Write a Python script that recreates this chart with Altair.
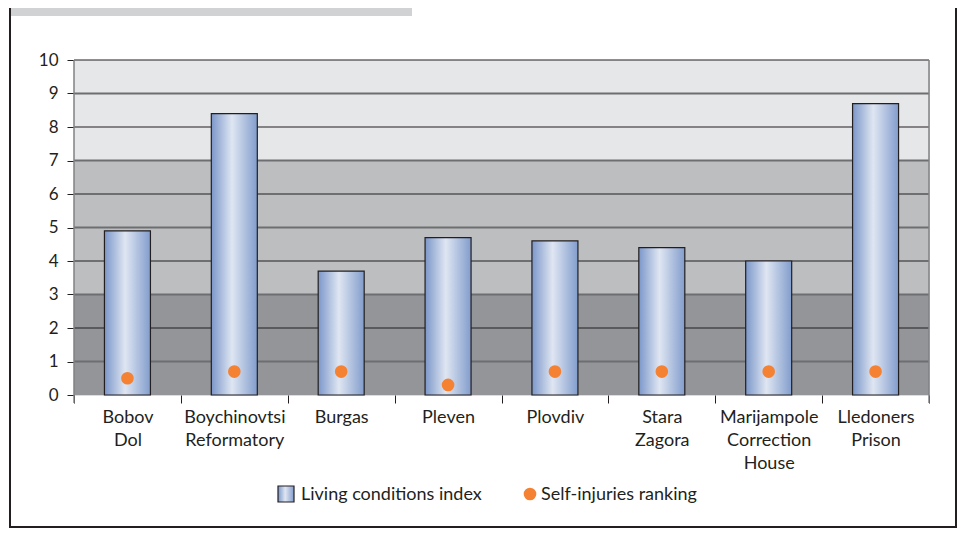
import altair as alt
import pandas as pd

# ---- data ----
categories = ["Bobov Dol", "Boychinovtsi Reformatory", "Burgas", "Pleven", "Plovdiv",
              "Stara Zagora", "Marijampole Correction House", "Lledoners Prison"]
living_index = [4.9, 8.4, 3.7, 4.7, 4.6, 4.4, 4.0, 8.7]
self_injuries = [0.5, 0.7, 0.7, 0.3, 0.7, 0.7, 0.7, 0.7]
band_low = [0, 3, 7]
band_high = [3, 7, 10]
band_colors = ["#939598", "#bcbec0", "#e6e7e8"]
grid_values = [1, 2, 3, 4, 5, 6, 7, 8, 9, 10]
y_ticks = [0, 1, 2, 3, 4, 5, 6, 7, 8, 9, 10]
legend_labels = ["Living conditions index", "Self-injuries ranking"]

W, H = 855, 335
FONT = "Lato"
INK = "#231f20"

df = pd.DataFrame({"cat": categories, "living": living_index, "self": self_injuries})
bands = pd.DataFrame({"lo": band_low, "hi": band_high, "col": band_colors})
grid = pd.DataFrame({"v": grid_values, "odd": [v % 2 == 1 for v in grid_values]})
one = pd.DataFrame({"k": [0]})

yscale = alt.Scale(domain=[0, 10], nice=False)
xscale = alt.Scale(paddingInner=0, paddingOuter=0)

yaxis = alt.Axis(title=None, values=y_ticks, tickSize=7, tickColor=INK,
                 domain=False, grid=False, labelFont=FONT, labelFontSize=17,
                 labelPadding=9, labelColor=INK, labelOverlap=False)

bar_grad = alt.Gradient(
    gradient="linear", x1=0, x2=1, y1=0, y2=0,
    stops=[alt.GradientStop(color="#7b97c9", offset=0),
           alt.GradientStop(color="#dfe6f2", offset=0.45),
           alt.GradientStop(color="#829dcc", offset=1)])

band_layer = alt.Chart(bands).mark_rect().encode(
    y=alt.Y("lo:Q", scale=yscale, axis=yaxis),
    y2="hi:Q",
    x=alt.value(0), x2=alt.value(W),
    color=alt.Color("col:N", scale=None),
)

grid_layer = alt.Chart(grid).mark_rule().encode(
    y=alt.Y("v:Q", scale=yscale, axis=yaxis),
    x=alt.value(0), x2=alt.value(W),
    color=alt.condition("datum.odd", alt.value("#6d6e71"), alt.value(INK)),
    strokeWidth=alt.condition("datum.odd", alt.value(2), alt.value(1.2)),
)

edges = alt.Chart(pd.DataFrame({"xe": [0, W]})).mark_rule(color="#808285", strokeWidth=1.5).encode(
    x=alt.X("xe:Q", scale=None), y=alt.value(0), y2=alt.value(H + 8))

xaxis = alt.Axis(title=None, labelAngle=0, tickBand="extent",
                 labelExpr="split(datum.label, ' ')", tickSize=8, tickColor=INK,
                 domain=False, labelFont=FONT, labelFontSize=18,
                 labelLineHeight=23, labelPadding=5, labelColor=INK,
                 labelLimit=300)

bars = alt.Chart(df).mark_bar(width=46, color=bar_grad, stroke=INK, strokeWidth=1.2).encode(
    x=alt.X("cat:N", sort=categories, scale=xscale, axis=xaxis),
    y=alt.Y("living:Q", scale=yscale, axis=yaxis),
)

dots = alt.Chart(df).mark_circle(size=160, color="#f58233", opacity=1).encode(
    x=alt.X("cat:N", sort=categories, scale=xscale, axis=xaxis),
    y=alt.Y("self:Q", scale=yscale, axis=yaxis),
)

# ---- legend ----
leg_box = alt.Chart(one).mark_rect(color=bar_grad, stroke=INK, strokeWidth=1.2).encode(
    x=alt.value(204), x2=alt.value(220), y=alt.value(426), y2=alt.value(442))
leg_t1 = alt.Chart(one).mark_text(align="left", baseline="middle", font=FONT, fontSize=18,
                                  color=INK).encode(
    x=alt.value(227), y=alt.value(435), text=alt.value(legend_labels[0]))
leg_dot = alt.Chart(one).mark_circle(size=160, color="#f58233", opacity=1).encode(
    x=alt.value(456), y=alt.value(434))
leg_t2 = alt.Chart(one).mark_text(align="left", baseline="middle", font=FONT, fontSize=18,
                                  color=INK).encode(
    x=alt.value(467), y=alt.value(435), text=alt.value(legend_labels[1]))

# ---- frame decorations ----
top_bar = alt.Chart(one).mark_rect(color="#d1d2d4").encode(
    x=alt.value(-63), x2=alt.value(338), y=alt.value(-53), y2=alt.value(-44))
frame_l = alt.Chart(one).mark_rule(color=INK, strokeWidth=2).encode(
    x=alt.value(-64), y=alt.value(-53), y2=alt.value(468))
frame_r = alt.Chart(one).mark_rule(color=INK, strokeWidth=2).encode(
    x=alt.value(882), y=alt.value(-53), y2=alt.value(468))
frame_b = alt.Chart(one).mark_rule(color=INK, strokeWidth=2).encode(
    x=alt.value(-65), x2=alt.value(883), y=alt.value(467))

chart = alt.layer(
    band_layer, grid_layer, edges, bars, dots,
    leg_box, leg_t1, leg_dot, leg_t2,
    top_bar, frame_l, frame_r, frame_b,
).properties(
    width=W, height=H,
    padding={"left": 66, "top": 52, "right": 29, "bottom": 134},
    autosize=alt.AutoSizeParams(type="none"),
).configure_view(strokeWidth=0).configure_axis(
    labelOverlap=False
).configure(background="white")

chart.save("out.html", embed_options={"renderer": "svg", "actions": False})
